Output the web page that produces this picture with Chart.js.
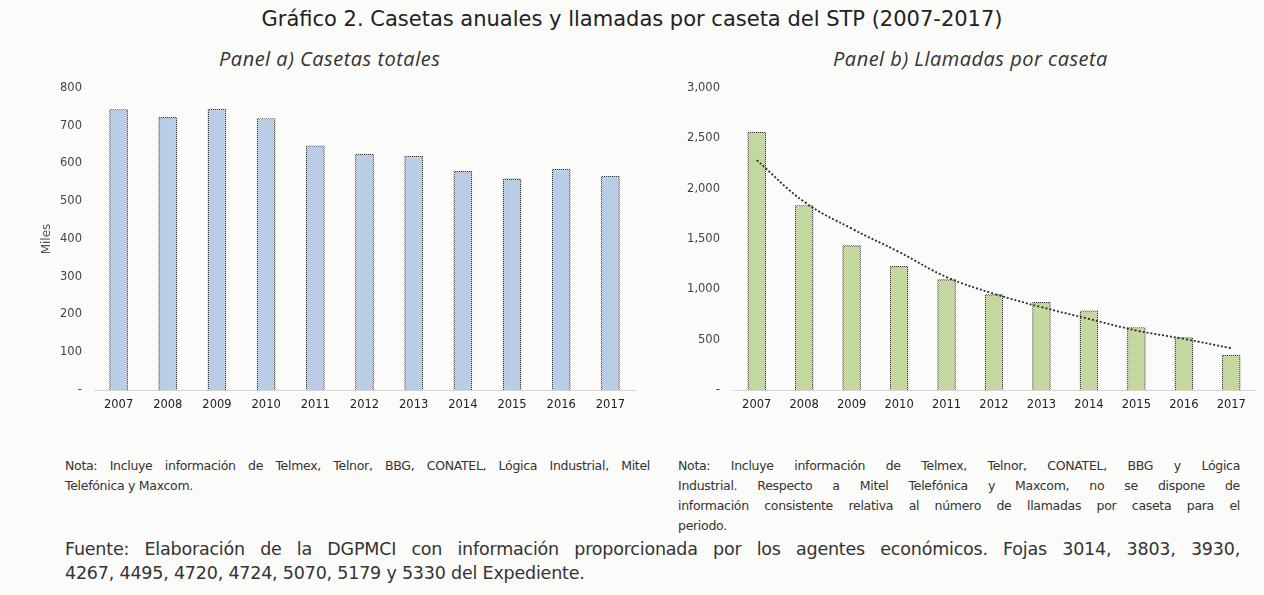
<!DOCTYPE html>
<html>
<head>
<meta charset="utf-8">
<script src="https://cdn.jsdelivr.net/npm/chart.js@4"></script>
<style>
  body { margin: 0; width: 1264px; height: 595px; background: #fbfbfa; overflow: hidden; position: relative; font-family: "DejaVu Sans", sans-serif; color: #333; }
  .abs { position: absolute; white-space: nowrap; }
  #title { left: 0; width: 1264px; top: 7px; text-align: center; font-size: 21px; color: #222; }
  .panel { font-family: "Open Sans", sans-serif; font-style: italic; font-size: 20px; letter-spacing: 0.5px; color: #333; top: 45px; }
  .note { font-size: 12.5px; color: #333; letter-spacing: -0.3px; line-height: 20px; }
  .just { text-align: justify; text-align-last: justify; }
  #fuente { left: 65px; top: 537px; width: 1175px; font-size: 17.5px; line-height: 24px; color: #333; letter-spacing: -0.2px; }
  canvas { display: block; }
</style>
</head>
<body>
<div id="title" class="abs">Gráfico 2. Casetas anuales y llamadas por caseta del STP (2007-2017)</div>
<div class="abs panel" style="left:219px;">Panel a) Casetas totales</div>
<div class="abs panel" style="left:833px;">Panel b) Llamadas por caseta</div>

<div class="abs" style="left:0;top:80px;"><canvas id="chartA" width="640" height="340"></canvas></div>
<div class="abs" style="left:640px;top:80px;"><canvas id="chartB" width="624" height="340"></canvas></div>

<div class="abs note" style="left:65px;top:456px;width:585px;">
  <div class="just">Nota: Incluye información de Telmex, Telnor, BBG, CONATEL, Lógica Industrial, Mitel</div>
  <div>Telefónica y Maxcom.</div>
</div>
<div class="abs note" style="left:678px;top:456px;width:562px;">
  <div class="just">Nota: Incluye información de Telmex, Telnor, CONATEL, BBG y Lógica</div>
  <div class="just">Industrial. Respecto a Mitel Telefónica y Maxcom, no se dispone de</div>
  <div class="just">información consistente relativa al número de llamadas por caseta para el</div>
  <div>periodo.</div>
</div>
<div id="fuente" class="abs">
  <div class="just">Fuente: Elaboración de la DGPMCI con información proporcionada por los agentes económicos. Fojas 3014, 3803, 3930,</div>
  <div>4267, 4495, 4720, 4724, 5070, 5179 y 5330 del Expediente.</div>
</div>

<script>
// data
const years = ['2007','2008','2009','2010','2011','2012','2013','2014','2015','2016','2017'];
const casetasMiles = [744, 723, 745, 720, 648, 626, 620, 580, 560, 586, 567];
const llamadasPorCaseta = [2566, 1836, 1438, 1232, 1099, 950, 873, 790, 624, 525, 349];
const tendencia = [2284, 1869, 1604, 1371, 1122, 956, 823, 707, 591, 508, 415];

// dotted outline look: alternate dark / fill pixels
function dotPattern(fill){
    const c = document.createElement('canvas');
    c.width = 2; c.height = 2;
    const g = c.getContext('2d');
    g.fillStyle = fill; g.fillRect(0,0,2,2);
    g.fillStyle = '#333';
    g.fillRect(0,0,1,1); g.fillRect(1,1,1,1);
    return g.createPattern(c, 'repeat');
}

const tickFont = {family: 'DejaVu Sans', size: 11.5};

function makeChart(id, opts){
    return new Chart(document.getElementById(id), {
        type: 'bar',
        data: { labels: years, datasets: opts.datasets },
        options: {
            responsive: false,
            animation: false,
            events: [],
            layout: { padding: { top: 8, right: opts.padRight, bottom: 0, left: 0 } },
            plugins: { legend: { display: false }, tooltip: { enabled: false } },
            scales: {
                x: {
                    grid: { display: false, drawTicks: false },
                    border: { color: '#d4d4d4', width: 1 },
                    ticks: { color: '#222', font: {family: 'DejaVu Sans', size: 11.5}, padding: 8, maxRotation: 0, autoSkip: false },
                    afterFit: (s) => { s.height = 30; }
                },
                y: {
                    min: 0, max: opts.max,
                    grid: { display: false, drawTicks: false },
                    border: { display: false },
                    ticks: {
                        stepSize: opts.step,
                        color: '#444',
                        font: tickFont,
                        padding: opts.tickPad,
                        callback: (v) => v === 0 ? '-' : v.toLocaleString('en-US')
                    },
                    title: opts.yTitle ? { display: true, text: opts.yTitle, color: '#555', font: {family: 'DejaVu Sans', size: 12}, padding: {top: 40, bottom: 0} } : { display: false },
                    afterFit: (s) => {
                        s.width = opts.yWidth;
                        // tick padding should not push the plot down
                        s.paddingTop = 6;
                        s.paddingBottom = 6;
                    }
                }
            }
        }
    });
}

makeChart('chartA', {
    max: 800, step: 100, yWidth: 94, padRight: 5, tickPad: 12, yTitle: 'Miles',
    datasets: [{
        data: casetasMiles,
        backgroundColor: '#b9cde6',
        borderColor: dotPattern('#b9cde6'),
        borderWidth: 1.4,
        barPercentage: 0.38,
        categoryPercentage: 1
    }]
});

makeChart('chartB', {
    max: 3000, step: 500, yWidth: 93, padRight: 9, tickPad: 13,
    datasets: [{
        type: 'line',
        data: tendencia,
        borderColor: '#2a2a2a',
        borderWidth: 1.8,
        borderDash: [2, 2],
        pointRadius: 0,
        tension: 0.4,
        fill: false,
        order: 0
    }, {
        data: llamadasPorCaseta,
        backgroundColor: '#c4d79e',
        borderColor: dotPattern('#c4d79e'),
        borderWidth: 1.4,
        barPercentage: 0.39,
        categoryPercentage: 1,
        order: 1
    }]
});
</script>
</body>
</html>
